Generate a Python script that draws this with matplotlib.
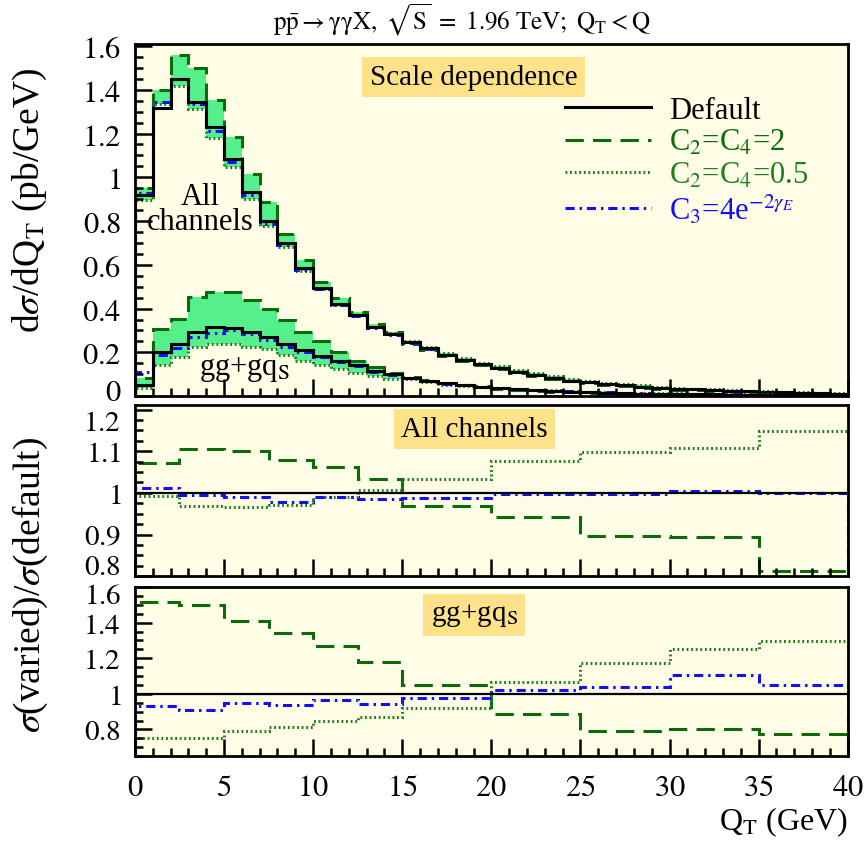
import matplotlib
matplotlib.use("Agg")
import matplotlib.pyplot as plt
import numpy as np
from matplotlib.ticker import MultipleLocator
from matplotlib.transforms import ScaledTranslation

plt.rcParams['font.family'] = ['Liberation Serif', 'DejaVu Serif']
plt.rcParams['mathtext.fontset'] = 'stix'

# 1 GeV bins for the distributions
qt_edges = np.arange(0, 41, 1)

# all channels
all_default = [0.92, 1.315, 1.449, 1.346, 1.228, 1.082, 0.931, 0.800, 0.700, 0.585,
               0.495, 0.423, 0.369, 0.315, 0.283, 0.246, 0.218, 0.190, 0.167, 0.147,
               0.129, 0.111, 0.098, 0.083, 0.071, 0.065, 0.056, 0.050, 0.044, 0.038,
               0.034, 0.031, 0.028, 0.025, 0.022, 0.020, 0.018, 0.016, 0.014, 0.012]
all_c2 = [0.95, 1.40, 1.56, 1.50, 1.354, 1.185, 1.015, 0.885, 0.742, 0.623,
          0.523, 0.450, 0.385, 0.330, 0.292, 0.240, 0.212, 0.185, 0.162, 0.143,
          0.122, 0.105, 0.092, 0.078, 0.067, 0.058, 0.050, 0.045, 0.039, 0.034,
          0.030, 0.027, 0.025, 0.022, 0.019, 0.016, 0.015, 0.013, 0.011, 0.010]
all_c05 = [0.895, 1.335, 1.415, 1.31, 1.18, 1.046, 0.90, 0.777, 0.680, 0.572,
           0.490, 0.418, 0.372, 0.318, 0.288, 0.254, 0.226, 0.197, 0.173, 0.152,
           0.139, 0.120, 0.106, 0.090, 0.077, 0.071, 0.061, 0.055, 0.049, 0.042,
           0.037, 0.034, 0.031, 0.028, 0.025, 0.023, 0.021, 0.019, 0.016, 0.014]
all_c3 = [0.93, 1.345, 1.45, 1.335, 1.212, 1.068, 0.918, 0.788, 0.690, 0.575,
          0.490, 0.418, 0.365, 0.311, 0.280, 0.243, 0.216, 0.188, 0.165, 0.145,
          0.129, 0.111, 0.098, 0.083, 0.071, 0.065, 0.056, 0.050, 0.044, 0.038,
          0.034, 0.031, 0.028, 0.025, 0.022, 0.020, 0.018, 0.016, 0.014, 0.012]

# gg + gq_S channel
gg_default = [0.05, 0.20, 0.238, 0.295, 0.315, 0.311, 0.292, 0.269, 0.238, 0.212,
              0.185, 0.162, 0.142, 0.115, 0.100, 0.085, 0.069, 0.058, 0.050, 0.043,
              0.037, 0.032, 0.028, 0.024, 0.021, 0.018, 0.016, 0.014, 0.012, 0.011,
              0.010, 0.009, 0.008, 0.007, 0.0065, 0.006, 0.0055, 0.005, 0.0045, 0.004]
gg_c2 = [0.085, 0.305, 0.354, 0.454, 0.474, 0.474, 0.438, 0.400, 0.346, 0.295,
         0.254, 0.203, 0.162, 0.131, 0.108, 0.088, 0.074, 0.062, 0.053, 0.045,
         0.033, 0.028, 0.025, 0.021, 0.018, 0.0145, 0.013, 0.011, 0.0096, 0.0088,
         0.008, 0.0072, 0.0064, 0.0056, 0.0052, 0.0046, 0.0042, 0.0038, 0.0035, 0.0031]
gg_c05 = [0.035, 0.142, 0.177, 0.223, 0.238, 0.238, 0.223, 0.215, 0.188, 0.162,
          0.142, 0.126, 0.108, 0.092, 0.077, 0.079, 0.064, 0.053, 0.046, 0.040,
          0.039, 0.034, 0.030, 0.026, 0.022, 0.021, 0.019, 0.016, 0.014, 0.013,
          0.0125, 0.011, 0.010, 0.0088, 0.0081, 0.0078, 0.0072, 0.0065, 0.0058, 0.0052]
gg_c3 = [0.11, 0.19, 0.22, 0.27, 0.29, 0.30, 0.282, 0.258, 0.225, 0.200,
         0.178, 0.158, 0.137, 0.112, 0.097, 0.083, 0.067, 0.057, 0.049, 0.042,
         0.038, 0.033, 0.029, 0.025, 0.022, 0.019, 0.017, 0.015, 0.013, 0.012,
         0.011, 0.010, 0.009, 0.0078, 0.0072, 0.0063, 0.0058, 0.0052, 0.0047, 0.0042]

# ratio panels (wider bins)
ratio_edges = [0, 2.5, 5, 7.5, 10, 12.5, 15, 20, 25, 30, 35, 40]
rall_c2 = [1.071, 1.105, 1.101, 1.079, 1.063, 1.034, 0.969, 0.942, 0.896, 0.893, 0.812]
rall_c05 = [0.993, 0.969, 0.966, 0.972, 0.990, 1.006, 1.034, 1.077, 1.099, 1.107, 1.149]
rall_c3 = [1.012, 0.994, 0.989, 0.978, 0.989, 0.986, 0.988, 0.997, 0.998, 1.004, 1.000]
rgg_c2 = [1.516, 1.501, 1.407, 1.342, 1.267, 1.179, 1.052, 0.884, 0.794, 0.804, 0.772]
rgg_c05 = [0.753, 0.753, 0.791, 0.813, 0.847, 0.871, 0.921, 1.065, 1.174, 1.254, 1.299]
rgg_c3 = [0.931, 0.912, 0.950, 0.936, 0.968, 0.944, 0.974, 1.021, 1.039, 1.105, 1.047]

top_yticks = [0, 0.2, 0.4, 0.6, 0.8, 1, 1.2, 1.4, 1.6]
mid_yticks = [0.8, 0.9, 1, 1.1, 1.2]
bot_yticks = [0.8, 1, 1.2, 1.4, 1.6]
x_ticks = [0, 5, 10, 15, 20, 25, 30, 35, 40]

dkgreen = '#0b6b0b'
green = '#1f7f1f'
blue = '#1010ff'
band = '#55ef8c'
panel_bg = '#fffde6'
box_bg = '#fee28a'

ls_dash = (0, (6, 3))
ls_dot = (0, (0.6, 0.9))
ls_dd = (0, (3, 1.6, 0.8, 1.6))
lw = 2.2


def tick_text(vals):
    return [f'${v:g}$' for v in vals]


fig = plt.figure(figsize=(8.65, 8.45), dpi=100)
ax1 = fig.add_axes([0.156, 0.530, 0.824, 0.417])
ax2 = fig.add_axes([0.156, 0.317, 0.824, 0.202])
ax3 = fig.add_axes([0.156, 0.104, 0.824, 0.200])

for ax in (ax1, ax2, ax3):
    ax.set_facecolor(panel_bg)
    ax.set_xlim(0, 40)
    ax.set_xticks(x_ticks, tick_text(x_ticks))
    ax.xaxis.set_minor_locator(MultipleLocator(1))
    ax.tick_params(which='both', direction='in', top=False, right=False, width=1.8,
                   labelsize=22)
    ax.tick_params(which='major', length=12)
    ax.tick_params(which='minor', length=6)
    ax.tick_params(axis='y', pad=10)
    ax.tick_params(axis='x', pad=12)
    for s in ax.spines.values():
        s.set_linewidth(2.0)
ax1.tick_params(labelbottom=False)
ax2.tick_params(labelbottom=False)
ax2.tick_params(axis='y', labelsize=21)
ax3.tick_params(axis='y', labelsize=21)

# top panel
for up, lo in ((all_c2, all_c05), (gg_c2, gg_c05)):
    ax1.stairs(np.maximum(up, lo), qt_edges, baseline=np.minimum(up, lo),
               fill=True, color=band, lw=0)
for d, c2, c05, c3 in ((all_default, all_c2, all_c05, all_c3),
                       (gg_default, gg_c2, gg_c05, gg_c3)):
    ax1.stairs(c2, qt_edges, baseline=0, color=dkgreen, lw=lw, ls=ls_dash)
    ax1.stairs(c05, qt_edges, baseline=0, color=green, lw=lw, ls=ls_dot)
    ax1.stairs(c3, qt_edges, baseline=0, color=blue, lw=lw, ls=ls_dd)
    ax1.stairs(d, qt_edges, baseline=0, color='black', lw=lw)
ax1.set_ylim(0, 1.61)
ax1.set_yticks(top_yticks, tick_text(top_yticks))
ax1.yaxis.set_minor_locator(MultipleLocator(0.05))

h_def, = ax1.plot([], [], color='black', lw=lw)
h_c2, = ax1.plot([], [], color=dkgreen, lw=lw, ls=ls_dash)
h_c05, = ax1.plot([], [], color=green, lw=lw, ls=ls_dot)
h_c3, = ax1.plot([], [], color=blue, lw=lw, ls=ls_dd)
ax1.legend([h_def, h_c2, h_c05, h_c3],
           ['Default', r'C$_2$=C$_4$=2', r'C$_2$=C$_4$=0.5', r'C$_3$=4e$^{-2\gamma_E}$'],
           loc='upper left', bbox_to_anchor=(0.565, 0.93), frameon=False,
           fontsize=22, handlelength=2.8, handletextpad=0.6, labelspacing=0.1,
           labelcolor=['black', dkgreen, green, blue])
ax1.text(0.475, 0.906, 'Scale dependence', transform=ax1.transAxes, fontsize=21,
         ha='center', va='center',
         bbox=dict(boxstyle='square,pad=0.25', fc=box_bg, ec='none'))
ax1.text(0.091, 0.531, 'All\nchannels', transform=ax1.transAxes, fontsize=22,
         ha='center', va='center', linespacing=0.85)
ax1.text(0.154, 0.078, r'gg+gq$_\mathrm{S}$', transform=ax1.transAxes, fontsize=22,
         ha='center', va='center')

# middle panel: all channels ratios
ax2.axhline(1, color='black', lw=1.6)
ax2.stairs(rall_c2, ratio_edges, baseline=0, color=dkgreen, lw=lw, ls=ls_dash)
ax2.stairs(rall_c05, ratio_edges, baseline=0, color=green, lw=lw, ls=ls_dot)
ax2.stairs(rall_c3, ratio_edges, baseline=0, color=blue, lw=lw, ls=ls_dd)
ax2.set_ylim(0.8, 1.21)
ax2.set_yticks(mid_yticks, tick_text(mid_yticks))
ax2.yaxis.set_minor_locator(MultipleLocator(0.025))
ax2.text(0.476, 0.863, 'All channels', transform=ax2.transAxes, fontsize=21,
         ha='center', va='center',
         bbox=dict(boxstyle='square,pad=0.25', fc=box_bg, ec='none'))

# bottom panel: gg+gq_S ratios
ax3.axhline(1, color='black', lw=1.6)
ax3.stairs(rgg_c2, ratio_edges, baseline=0, color=dkgreen, lw=lw, ls=ls_dash)
ax3.stairs(rgg_c05, ratio_edges, baseline=0, color=green, lw=lw, ls=ls_dot)
ax3.stairs(rgg_c3, ratio_edges, baseline=0, color=blue, lw=lw, ls=ls_dd)
ax3.set_ylim(0.65, 1.6)
ax3.set_yticks(bot_yticks, tick_text(bot_yticks))
ax3.yaxis.set_minor_locator(MultipleLocator(0.05))
ax3.text(0.476, 0.836, r'gg+gq$_\mathrm{S}$', transform=ax3.transAxes, fontsize=21,
         ha='center', va='center',
         bbox=dict(boxstyle='square,pad=0.25', fc=box_bg, ec='none'))
ax3.set_xlabel(r'Q$_\mathrm{T}$ (GeV)', fontsize=23, loc='right', labelpad=2)

fig.text(0.534, 0.976,
         r'$\mathrm{p\bar{p}\rightarrow\gamma\gamma X,\ \sqrt{S}\ =\ 1.96\ TeV;\ Q_{T} < Q}$',
         fontsize=18, ha='center', va='center')
fig.text(0.035, 0.763, r'd$\sigma$/dQ$_\mathrm{T}$ (pb/GeV)', rotation=90,
         fontsize=27, ha='center', va='center')
fig.text(0.035, 0.308, r'$\sigma$(varied)/$\sigma$(default)', rotation=90,
         fontsize=27, ha='center', va='center')


# nudge the end labels where the panels meet, like the original
def nudge(label, dy_px):
    label.set_transform(label.get_transform()
                        + ScaledTranslation(0, dy_px / fig.dpi, fig.dpi_scale_trans))


nudge(ax1.get_yticklabels()[0], 7)
nudge(ax2.get_yticklabels()[0], 12)
nudge(ax2.get_yticklabels()[-1], -10)
nudge(ax3.get_yticklabels()[-1], -6)

fig.savefig('out.png', dpi=100)
